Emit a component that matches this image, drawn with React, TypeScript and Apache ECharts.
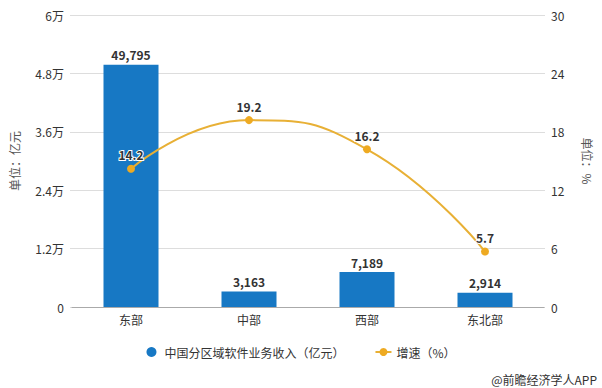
import React, { useEffect, useRef } from "react";
import * as echarts from "echarts";

const categories = ["东部", "中部", "西部", "东北部"];
const revenue = [49795, 3163, 7189, 2914];
const growth = [14.2, 19.2, 16.2, 5.7];
const leftTicks = [0, 12000, 24000, 36000, 48000, 60000];
const rightTicks = [0, 6, 12, 18, 24, 30];
const barName = "中国分区域软件业务收入（亿元）";
const lineName = "增速（%）";
const source = "@前瞻经济学人APP";

const FONT = "'Noto Sans CJK SC', 'Microsoft YaHei', sans-serif";

export default function App() {
  const ref = useRef<HTMLDivElement>(null);
  useEffect(() => {
    if (!ref.current) return;
    const chart = echarts.init(ref.current, undefined, { renderer: "svg" });
    const fmtLeft = (v: number) => (v === 0 ? "0" : `${+(v / 10000).toFixed(1)}万`);
    chart.setOption({
      animation: false,
      textStyle: { fontFamily: FONT },
      grid: [
        { left: 72, right: 58, top: 15, bottom: 81 },
        { left: 62, right: 49, top: 15, bottom: 81 },
      ],
      legend: {
        bottom: 25,
        left: "center",
        itemGap: 30,
        itemWidth: 16,
        itemHeight: 10,
        textStyle: { fontSize: 12, color: "#333", fontFamily: FONT },
        data: [
          { name: barName, icon: "circle" },
          { name: lineName },
        ],
      },
      xAxis: [
        {
          type: "category",
          gridIndex: 0,
          data: categories,
          axisLine: { lineStyle: { color: "#aaa" } },
          axisTick: { alignWithLabel: true, lineStyle: { color: "#aaa" } },
          axisLabel: { color: "#333", fontSize: 12, margin: 6 },
        },
        { type: "category", gridIndex: 1, data: categories, show: false },
      ],
      yAxis: [
        {
          type: "value", gridIndex: 0, min: leftTicks[0], max: leftTicks[leftTicks.length - 1],
          interval: leftTicks[1] - leftTicks[0], show: false,
        },
        {
          type: "value", gridIndex: 0, position: "right", min: rightTicks[0],
          max: rightTicks[rightTicks.length - 1], interval: rightTicks[1] - rightTicks[0], show: false,
        },
        {
          type: "value", gridIndex: 1, min: leftTicks[0], max: leftTicks[leftTicks.length - 1],
          interval: leftTicks[1] - leftTicks[0],
          name: "单位：亿元", nameLocation: "middle", nameGap: 50, nameRotate: 90,
          nameTextStyle: { color: "#555", fontSize: 12 },
          axisLine: { show: false }, axisTick: { show: false },
          axisLabel: { color: "#333", fontSize: 12, margin: 6, formatter: fmtLeft },
          splitLine: { lineStyle: { color: "#ddd" } },
        },
        {
          type: "value", gridIndex: 1, position: "right", min: rightTicks[0],
          max: rightTicks[rightTicks.length - 1], interval: rightTicks[1] - rightTicks[0],
          name: "单位：%", nameLocation: "middle", nameGap: 37, nameRotate: -90,
          nameTextStyle: { color: "#555", fontSize: 12 },
          axisLine: { show: false }, axisTick: { show: false },
          axisLabel: { color: "#333", fontSize: 12, margin: 6 },
          splitLine: { show: false },
        },
      ],
      series: [
        {
          name: barName,
          type: "bar",
          xAxisIndex: 0,
          yAxisIndex: 0,
          data: revenue,
          barWidth: 55,
          itemStyle: { color: "#1778c4" },
          label: {
            show: true,
            position: "top",
            distance: 4,
            color: "#333",
            fontWeight: "bold",
            fontSize: 12,
            formatter: (p: any) => Number(p.value).toLocaleString("en-US"),
          },
        },
        {
          name: lineName,
          type: "line",
          xAxisIndex: 0,
          yAxisIndex: 1,
          data: growth,
          smooth: true,
          symbol: "circle",
          symbolSize: 8,
          itemStyle: { color: "#eeaa22" },
          lineStyle: { color: "#e8b035", width: 2 },
          label: {
            show: true,
            position: "top",
            distance: 4,
            color: "#333",
            fontWeight: "bold",
            fontSize: 12,
            textBorderColor: "#fff",
            textBorderWidth: 2,
          },
        },
      ],
      graphic: [
        {
          type: "text",
          right: 5,
          bottom: 3,
          style: { text: source, fill: "#333", fontSize: 12, fontFamily: FONT },
        },
      ],
    });
    return () => chart.dispose();
  }, []);
  return (
    <div
      ref={ref}
      style={{ position: "fixed", left: 0, top: 0, width: 602, height: 388, background: "#fff" }}
    />
  );
}
